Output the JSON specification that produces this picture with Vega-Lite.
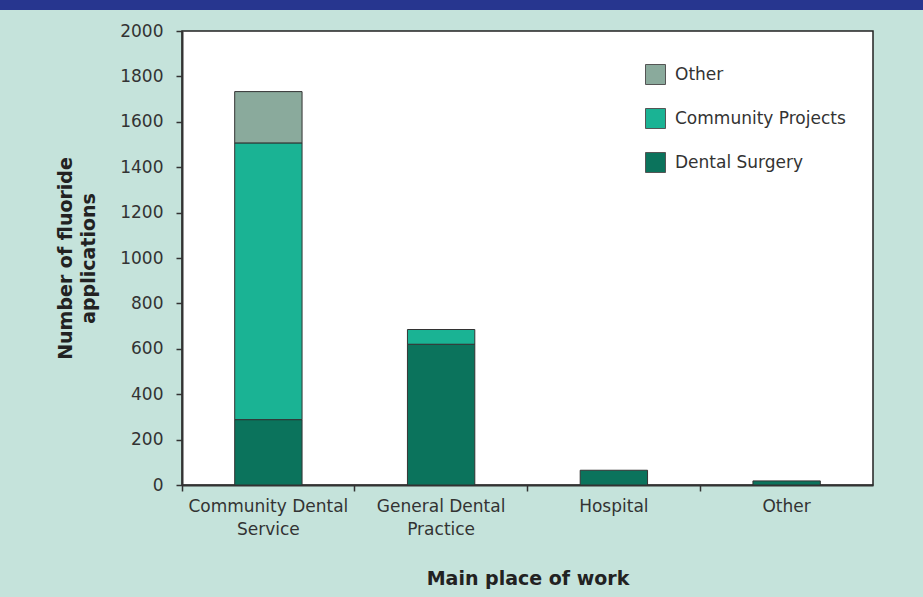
{
  "$schema": "https://vega.github.io/schema/vega-lite/v6.json",
  "background": "#c5e3db",
  "padding": {"left": 0, "top": 0, "right": 0, "bottom": 12},
  "config": {
    "font": "DejaVu Sans",
    "concat": {"spacing": 0}
  },
  "vconcat": [
    {
      "width": 923,
      "height": 10,
      "data": {"values": []},
      "mark": {"type": "point"},
      "encoding": {},
      "view": {"fill": "#27368f", "stroke": null}
    },
    {
      "hconcat": [
        {
          "width": 182,
          "height": 454,
          "data": {"values": []},
          "mark": {"type": "point"},
          "encoding": {},
          "view": {"stroke": null}
        },
        {
          "width": 691,
          "height": 454,
          "view": {"fill": "white", "stroke": "#222", "strokeWidth": 1.5},
          "data": {
            "values": [
              {"place": "Community Dental Service", "type": "Dental Surgery", "level": 1, "count": 288},
              {"place": "Community Dental Service", "type": "Community Projects", "level": 2, "count": 1219},
              {"place": "Community Dental Service", "type": "Other", "level": 3, "count": 226},
              {"place": "General Dental Practice", "type": "Dental Surgery", "level": 1, "count": 620},
              {"place": "General Dental Practice", "type": "Community Projects", "level": 2, "count": 65},
              {"place": "Hospital", "type": "Dental Surgery", "level": 1, "count": 65},
              {"place": "Other", "type": "Dental Surgery", "level": 1, "count": 18}
            ]
          },
          "mark": {"type": "bar", "stroke": "#333", "strokeWidth": 1, "width": {"band": 0.39}},
          "encoding": {
            "x": {
              "field": "place",
              "type": "nominal",
              "sort": ["Community Dental Service", "General Dental Practice", "Hospital", "Other"],
              "scale": {"paddingInner": 0, "paddingOuter": 0},
              "axis": {
                "title": "Main place of work",
                "titleFontSize": 19,
                "titleFontWeight": "bold",
                "titleColor": "#222",
                "titlePadding": 32,
                "labelAngle": 0,
                "bandPosition": 0,
                "labelFontSize": 17,
                "labelColor": "#333",
                "labelPadding": 7,
                "labelLineHeight": 23,
                "labelExpr": "datum.value == 'Community Dental Service' ? ['Community Dental', 'Service'] : datum.value == 'General Dental Practice' ? ['General Dental', 'Practice'] : datum.value",
                "domainColor": "#333",
                "domainWidth": 2,
                "tickColor": "#333",
                "tickSize": 6,
                "tickWidth": 1.5
              }
            },
            "y": {
              "field": "count",
              "type": "quantitative",
              "stack": "zero",
              "scale": {"domain": [0, 2000], "nice": false},
              "axis": {
                "title": ["Number of fluoride", "applications"],
                "titleFontSize": 19,
                "titleFontWeight": "bold",
                "titleColor": "#222",
                "titleLineHeight": 23,
                "titlePadding": 21,
                "values": [0, 200, 400, 600, 800, 1000, 1200, 1400, 1600, 1800, 2000],
                "format": "d",
                "grid": false,
                "labelFontSize": 17,
                "labelColor": "#333",
                "labelPadding": 13,
                "domainColor": "#333",
                "domainWidth": 2,
                "tickColor": "#333",
                "tickSize": 6,
                "tickWidth": 1.5
              }
            },
            "order": {"field": "level", "type": "quantitative", "sort": "ascending"},
            "color": {
              "field": "type",
              "type": "nominal",
              "sort": ["Other", "Community Projects", "Dental Surgery"],
              "scale": {
                "domain": ["Other", "Community Projects", "Dental Surgery"],
                "range": ["#8aaa9c", "#1ab394", "#0b735c"]
              },
              "legend": {
                "title": null,
                "orient": "none",
                "legendX": 645,
                "legendY": 64,
                "symbolType": "square",
                "symbolSize": 400,
                "symbolStrokeColor": "#555",
                "symbolStrokeWidth": 1,
                "symbolOpacity": 1,
                "labelFontSize": 17,
                "labelColor": "#333",
                "labelOffset": 9,
                "labelLimit": 300,
                "rowPadding": 19
              }
            }
          }
        }
      ],
      "bounds": "flush",
      "spacing": 0
    }
  ],
  "bounds": "flush",
  "spacing": 21
}
